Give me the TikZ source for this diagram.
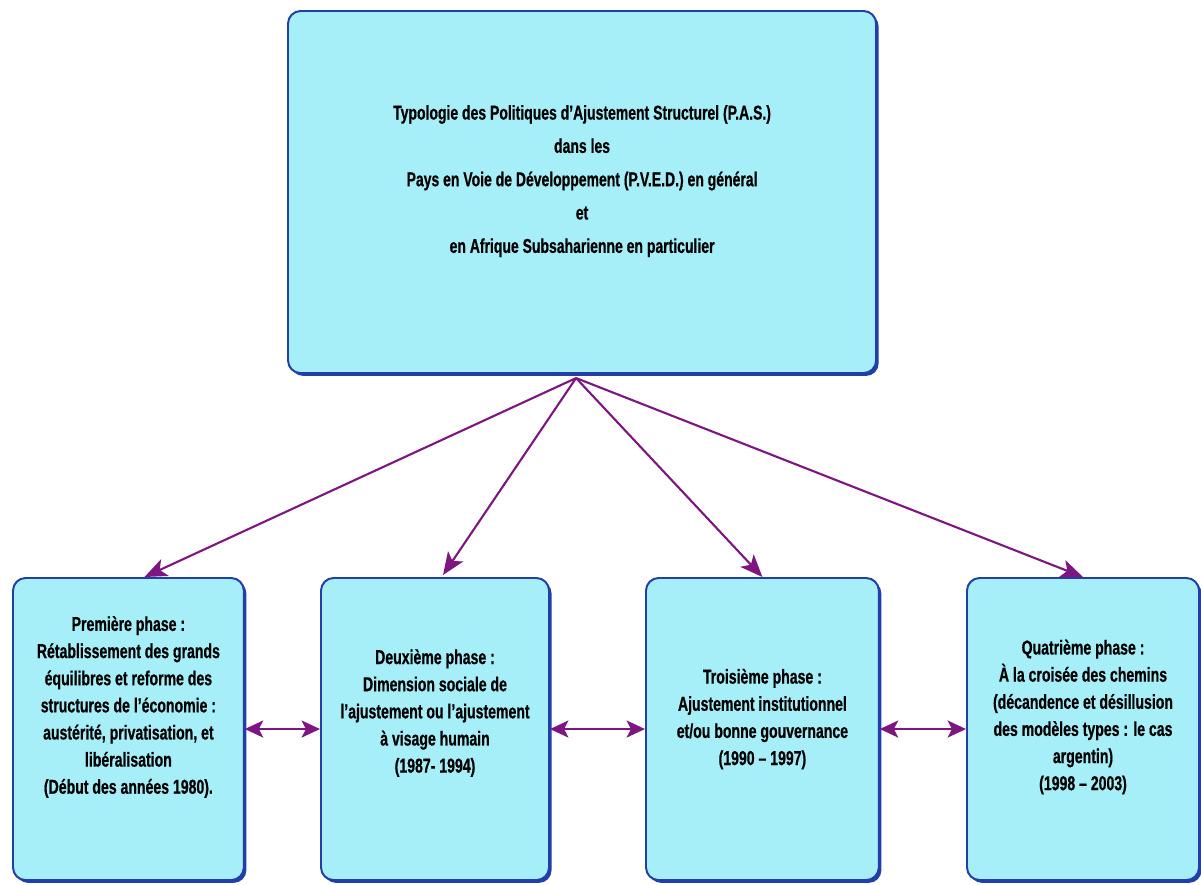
\documentclass[tikz,border=0pt]{standalone}
\usepackage{fontspec}
\setmainfont{Liberation Sans}[FakeStretch=0.7,BoldFeatures={FakeBold=0.6}]
\usetikzlibrary{arrows.meta,shadows,calc}
\definecolor{boxfill}{RGB}{166,238,248}
\definecolor{boxline}{RGB}{34,62,168}
\definecolor{arrowcol}{RGB}{125,22,128}
\begin{document}
\begin{tikzpicture}[x=0.025cm,y=-0.025cm,
  phasebox/.style={draw=boxline,line width=1.4pt,fill=boxfill,rounded corners=9pt,
    drop shadow={shadow xshift=1.8pt,shadow yshift=-2pt,fill=boxline,opacity=1}},
  phasetext/.style={align=center,font=\bfseries\fontsize{14.3}{19.3}\selectfont},
  link/.style={draw=arrowcol,line width=1.5pt,-{Stealth[length=16pt,width=13pt,inset=4pt]}},
  twoway/.style={draw=arrowcol,line width=2pt,{Stealth[length=13pt,width=12pt,inset=3pt]}-{Stealth[length=13pt,width=12pt,inset=3pt]}}]
\useasboundingbox (0,0) rectangle (1201,884);
% boite du haut
\node[phasebox,anchor=north west,minimum width=14.7cm,minimum height=9.05cm] (top) at (287,10) {};
\node[align=center,font=\bfseries\fontsize{14.2}{23.7}\selectfont] (toptext) at ($(top.center)+(0,-11)$)
  {Typologie des Politiques d’Ajustement Structurel (P.A.S.)\\
   dans les\\
   Pays en Voie de Développement (P.V.E.D.) en général\\
   et\\
   en Afrique Subsaharienne en particulier};
% les quatre phases
\node[phasebox,anchor=north west,minimum width=5.77cm,minimum height=7.55cm] (ph1) at (12,577) {};
\node[phasebox,anchor=north west,minimum width=5.7cm,minimum height=7.55cm] (ph2) at (320,577) {};
\node[phasebox,anchor=north west,minimum width=5.82cm,minimum height=7.55cm] (ph3) at (645,577) {};
\node[phasebox,anchor=north west,minimum width=5.8cm,minimum height=7.55cm] (ph4) at (966,577) {};
\node[phasetext] (ph1text) at ($(ph1.center)+(0,-22)$)
  {Première phase :\\ Rétablissement des grands\\ équilibres et reforme des\\
   structures de l’économie :\\ austérité, privatisation, et\\ libéralisation\\
   (Début des années 1980).};
\node[phasetext] (ph2text) at ($(ph2.center)+(0,-16)$)
  {Deuxième phase :\\ Dimension sociale de\\ l’ajustement ou l’ajustement\\
   à visage humain\\ (1987- 1994)};
\node[phasetext] (ph3text) at ($(ph3.center)+(0,-10)$)
  {Troisième phase :\\ Ajustement institutionnel\\ et/ou bonne gouvernance\\ (1990 – 1997)};
\node[phasetext] (ph4text) at ($(ph4.center)+(0,-12)$)
  {Quatrième phase :\\ À la croisée des chemins\\ (décandence et désillusion\\
   des modèles types : le cas\\ argentin)\\ (1998 – 2003)};
% fleches
\coordinate (hub) at ($(top.south)+(-6,4)$);
\draw[link] (hub) -- ($(ph1.north)+(16,0)$);
\draw[link] (hub) -- ($(ph2.north)+(8,-2)$);
\draw[link] (hub) -- (ph3.north);
\draw[link] (hub) -- (ph4.north);
\draw[twoway] (ph1.east) -- (ph2.west);
\draw[twoway] (ph2.east) -- (ph3.west);
\draw[twoway] (ph3.east) -- (ph4.west);
\end{tikzpicture}
\end{document}
